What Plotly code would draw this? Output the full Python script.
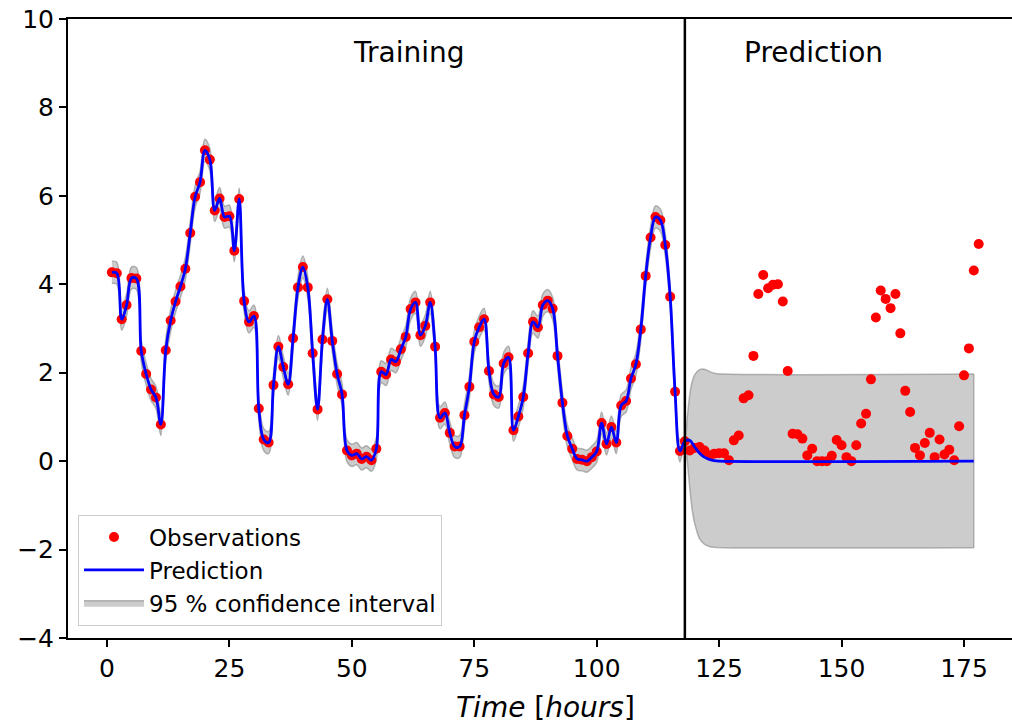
import plotly.graph_objects as go

# ---------------- data ----------------
hours = list(range(1, 179))
observations = [
    4.27, 4.25, 3.21, 3.53, 4.14, 4.13, 2.49, 1.97, 1.62, 1.44,
    0.83, 2.51, 3.18, 3.61, 3.95, 4.35, 5.16, 5.98, 6.31, 7.03,
    6.82, 5.67, 5.94, 5.52, 5.54, 4.76, 5.93, 3.62, 3.15, 3.28,
    1.19, 0.49, 0.42, 1.72, 2.59, 2.13, 1.74, 2.78, 3.93, 4.39,
    3.93, 2.44, 1.17, 2.75, 3.66, 2.72, 1.97, 1.51, 0.24, 0.13,
    0.17, 0.05, 0.10, 0.02, 0.28, 2.02, 1.96, 2.30, 2.25, 2.53,
    2.81, 3.44, 3.59, 2.85, 3.06, 3.59, 2.59, 0.98, 1.09, 0.64,
    0.33, 0.33, 1.04, 1.68, 2.70, 3.03, 3.21, 2.04, 1.51, 1.45,
    2.21, 2.35, 0.70, 1.01, 1.45, 2.44, 3.15, 3.03, 3.53, 3.63,
    3.45, 2.38, 1.32, 0.57, 0.28, 0.05, 0.03, 0.00, 0.09, 0.22,
    0.86, 0.39, 0.77, 0.42, 1.26, 1.36, 1.87, 2.19, 2.98, 4.19,
    5.06, 5.52, 5.45, 4.89, 3.72, 1.57, 0.23, 0.45, 0.24, 0.30,
    0.32, 0.24, 0.13, 0.17, 0.18, 0.18, 0.02, 0.47, 0.58, 1.42,
    1.49, 2.38, 3.78, 4.21, 3.91, 3.99, 4.00, 3.61, 2.04, 0.62,
    0.61, 0.51, 0.13, 0.28, 0.00, 0.00, 0.00, 0.12, 0.48, 0.36,
    0.09, 0.00, 0.36, 0.85, 1.07, 1.85, 3.25, 3.86, 3.67, 3.46,
    3.78, 2.89, 1.59, 1.11, 0.30, 0.13, 0.41, 0.64, 0.09, 0.49,
    0.15, 0.26, 0.02, 0.79, 1.94, 2.55, 4.31, 4.91,
]

train_end = 118            # end of training window (hours)
n_train = 118               # number of training observations

pred_mean_t = [119, 120, 121, 122, 123, 124, 125, 177]
pred_mean_v = [0.47, 0.32, 0.18, 0.09, 0.04, 0.01, 0.0, 0.0]

ci_future_t = [118, 118.5, 119, 119.5, 120, 121, 122, 123, 124, 126, 177]
ci_future_upper = [0.55, 1.0, 1.5, 1.8, 1.95, 2.07, 2.08, 2.03, 1.99, 1.97, 1.97]
ci_future_lower = [0.45, 0.0, -0.6, -1.1, -1.4, -1.75, -1.88, -1.93, -1.95, -1.96, -1.96]
train_ci_halfwidth = 0.25

x_ticks = [0, 25, 50, 75, 100, 125, 150, 175]
y_ticks = [-4, -2, 0, 2, 4, 6, 8, 10]

# ---------------- derived series ----------------
mean_x = hours[:n_train] + pred_mean_t
mean_y = observations[:n_train] + pred_mean_v

band_x = hours[:n_train - 1] + ci_future_t
band_upper = [v + train_ci_halfwidth for v in observations[:n_train - 1]] + ci_future_upper
band_lower = [v - train_ci_halfwidth for v in observations[:n_train - 1]] + ci_future_lower

FONT = "DejaVu Sans"
band_fill = "rgba(128,128,128,0.40)"
band_edge = "rgba(128,128,128,0.55)"

fig = go.Figure()

# confidence band (drawn first, underneath)
fig.add_trace(go.Scatter(
    x=band_x, y=band_lower, mode="lines", line=dict(color=band_edge, width=1.5, shape="spline"),
    showlegend=False, hoverinfo="skip"))
fig.add_trace(go.Scatter(
    x=band_x, y=band_upper, mode="lines", fill="tonexty", fillcolor=band_fill,
    line=dict(color=band_edge, width=1.5, shape="spline"),
    name="95 % confidence interval", legendrank=3))
fig.add_trace(go.Scatter(
    x=[band_x[-1], band_x[-1]], y=[band_lower[-1], band_upper[-1]], mode="lines",
    line=dict(color=band_edge, width=1.5), showlegend=False, hoverinfo="skip"))

# observations
fig.add_trace(go.Scatter(
    x=hours, y=observations, mode="markers",
    marker=dict(color="#ff0000", size=10, line=dict(width=0)),
    name="Observations", legendrank=1))

# prediction mean
fig.add_trace(go.Scatter(
    x=mean_x, y=mean_y, mode="lines",
    line=dict(color="#0000ff", width=2.8, shape="spline", smoothing=1.0),
    name="Prediction", legendrank=2))

# vertical separator
fig.add_shape(type="line", xref="x", yref="paper", x0=train_end, x1=train_end, y0=0, y1=1,
              line=dict(color="black", width=2.5))

fig.add_annotation(x=61.6, y=9.25, xref="x", yref="y", text="Training", showarrow=False,
                   font=dict(family=FONT, size=28, color="black"))
fig.add_annotation(x=144.3, y=9.25, xref="x", yref="y", text="Prediction", showarrow=False,
                   font=dict(family=FONT, size=28, color="black"))
fig.add_annotation(x=0.5053, y=-0.113, xref="paper", yref="paper", yanchor="middle",
                   text="<i>Time</i> [<i>hours</i>]", showarrow=False,
                   font=dict(family=FONT, size=28, color="black"))

fig.update_layout(
    width=1012, height=725,
    margin=dict(l=68, r=0, t=19, b=87),
    paper_bgcolor="white", plot_bgcolor="white",
    font=dict(family=FONT, size=25, color="black"),
    showlegend=True,
    legend=dict(x=0.0106, y=0.02, xanchor="left", yanchor="bottom", traceorder="normal",
                bgcolor="rgba(255,255,255,0.8)", bordercolor="#cccccc", borderwidth=1,
                font=dict(family=FONT, size=23, color="black"),
                itemwidth=60),
    xaxis=dict(range=[-7.96, 184.8], tickvals=x_ticks, ticks="outside", ticklen=7, tickwidth=1.5,
               tickcolor="black", showline=True, linecolor="black", linewidth=2, mirror=True,
               showgrid=False, zeroline=False, tickfont=dict(family=FONT, size=25)),
    yaxis=dict(range=[-4, 10], tickvals=y_ticks, ticks="outside", ticklen=7, tickwidth=1.5,
               tickcolor="black", showline=True, linecolor="black", linewidth=2, mirror=False,
               showgrid=False, zeroline=False, tickfont=dict(family=FONT, size=25)),
)

fig.write_html("out.html")
